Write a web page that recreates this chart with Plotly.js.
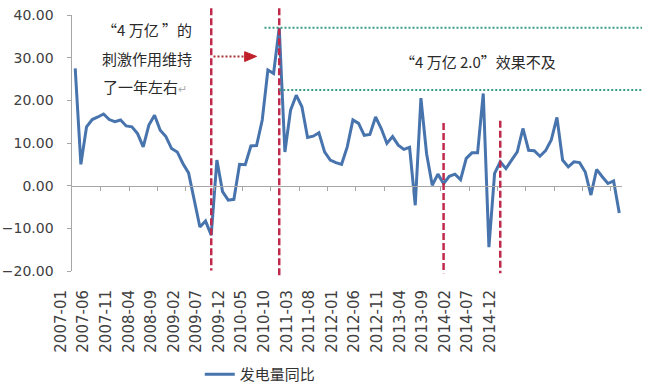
<!DOCTYPE html>
<html>
<head>
<meta charset="utf-8">
<script src="https://cdn.plot.ly/plotly-3.0.1.min.js"></script>
<style>html,body{margin:0;padding:0;background:#fff;}#chart{width:656px;height:386px;}</style>
</head>
<body>
<div id="chart"></div>
<script>
// ---- data ----
const seriesName = '发电量同比';
// monthly YoY values, 2007-01 .. 2015-01 (index 0 = 2007-01)
const genYoY = [
  27.5, 5.0, 13.8, 15.5, 16.1, 16.8, 15.5, 15.0, 15.4, 14.0, 13.8, 12.2,
  9.1, 14.2, 16.5, 13.0, 11.5, 8.7, 7.9, 5.2, 3.0, -3.5, -9.7, -8.3,
  -11.6, 6.0, -1.4, -3.4, -3.2, 5.0, 4.9, 9.3, 9.4, 15.4, 27.1, 26.3,
  37.0, 7.9, 17.7, 21.2, 18.5, 11.3, 11.6, 12.4, 7.9, 6.0, 5.4, 5.0,
  9.1, 15.4, 14.6, 11.8, 12.0, 16.1, 13.4, 9.9, 11.5, 9.5, 8.5, 9.0,
  -4.6, 20.5, 7.5, 0.1, 2.7, 0.5, 2.2, 2.7, 1.4, 6.4, 7.7, 7.7,
  21.6, -14.4, 2.9, 5.6, 4.0, 6.0, 7.9, 13.4, 8.3, 8.2, 6.9, 8.2,
  10.7, 16.0, 6.0, 4.4, 5.6, 5.4, 3.2, -2.2, 3.8, 2.1, 0.5, 1.1,
  -6.4
];
const monthIndex = genYoY.map((_, i) => i);
const tickLabels = ['2007-01','2007-06','2007-11','2008-04','2008-09','2009-02','2009-07','2009-12',
  '2010-05','2010-10','2011-03','2011-08','2012-01','2012-06','2012-11','2013-04','2013-09',
  '2014-02','2014-07','2014-12'];
const tickLabelIdx = tickLabels.map((_, k) => k * 5);
const yTicks = [-20, -10, 0, 10, 20, 30, 40];

// ---- geometry helpers (layout only) ----
const N = genYoY.length;
const xDom = [0.0378, 0.9664];
const x2Dom = [0.0147, 0.7547];
const xp = i => xDom[0] + (i + 0.5) / N * (xDom[1] - xDom[0]);
const yp = v => (v + 20) / 60;

const redCol = '#bf2a4c';
const greenCol = '#3a9c86';

const vlines = [
  {i: 24, top: 41.6, bot: -19.9},
  {i: 36, top: 41.6, bot: -21.0},
  {i: 65, top: 14.7, bot: -20.5},
  {i: 75, top: 15.2, bot: -20.5}
];
const shapes = vlines.map(l => ({
  type: 'line', xref: 'x', yref: 'paper', x0: l.i, x1: l.i, y0: yp(l.top), y1: yp(l.bot),
  line: {color: redCol, width: 2.5, dash: '7px,3px'}
}));
shapes.push({type: 'line', xref: 'paper', yref: 'y', x0: xp(33.4), x1: 1.0, y0: 37.0, y1: 37.0,
  line: {color: greenCol, width: 2, dash: '2px,2px'}});
shapes.push({type: 'line', xref: 'paper', yref: 'y', x0: xp(36), x1: 1.0, y0: 22.4, y1: 22.4,
  line: {color: greenCol, width: 2, dash: '2px,2px'}});
shapes.push({type: 'line', xref: 'x', yref: 'y', x0: 24.4, x1: 30.0, y0: 30.3, y1: 30.3,
  line: {color: '#a83232', width: 2, dash: '2px,2px'}});
shapes.push({type: 'path', xref: 'x', yref: 'y', path: 'M 29.9,31.4 L 32.0,30.3 L 29.9,29.1 Z',
  fillcolor: '#c0202a', line: {color: '#c0202a', width: 1}});

const cjk = '"Noto Sans CJK SC", "Noto Sans", sans-serif';
const annFont = {family: cjk, size: 15, color: '#2a2a2a'};
const annotations = [
  {text: '“4 万亿 ”的', x: 4.3, y: 36.6, xref: 'x', yref: 'y', xanchor: 'left', yanchor: 'middle', showarrow: false, font: annFont},
  {text: '刺激作用维持', x: 4.3, y: 29.8, xref: 'x', yref: 'y', xanchor: 'left', yanchor: 'middle', showarrow: false, font: annFont},
  {text: '了一年左右<span style="color:#aaa;font-size:11px">↵</span>', x: 4.6, y: 23.3, xref: 'x', yref: 'y', xanchor: 'left', yanchor: 'middle', showarrow: false, font: annFont},
  {text: '“4 万亿 2.0”效果不及', x: 71.1, y: 29.2, xref: 'x', yref: 'y', xanchor: 'center', yanchor: 'middle', showarrow: false, font: annFont}
];

const traces = [
  {x: monthIndex, y: genYoY, type: 'scatter', mode: 'lines', name: seriesName,
   line: {color: '#4874ae', width: 3}, hoverinfo: 'skip'},
  {x: [tickLabelIdx[0]], y: [null], xaxis: 'x2', yaxis: 'y', type: 'scatter', mode: 'lines',
   showlegend: false, hoverinfo: 'skip'}
];

const layout = {
  width: 656, height: 386,
  margin: {l: 50, r: 14, t: 15, b: 115, autoexpand: false},
  paper_bgcolor: '#ffffff', plot_bgcolor: 'rgba(0,0,0,0)',
  showlegend: true,
  legend: {orientation: 'h', x: 0.253, y: -0.34, xanchor: 'left', yanchor: 'top',
    bgcolor: 'rgba(0,0,0,0)', font: {family: cjk, size: 15, color: '#333'}},
  xaxis: {domain: xDom, range: [-0.5, N - 0.5], anchor: 'free', position: yp(0), automargin: false,
    showgrid: false, zeroline: false, showline: true, linecolor: '#a6a6a6', linewidth: 1.5,
    ticks: 'outside', ticklen: 4, tickcolor: '#a6a6a6', tickwidth: 1,
    tickvals: tickLabelIdx.slice(0, -1).map(v => v + 4.5), showticklabels: false},
  xaxis2: {domain: x2Dom, range: [-0.5, N - 0.5], anchor: 'free', position: 0, automargin: false,
    showgrid: false, zeroline: false, showline: false, ticks: '',
    tickmode: 'array', tickvals: tickLabelIdx, ticktext: tickLabels, tickangle: -90,
    ticklabelstandoff: 15,
    tickfont: {family: 'DejaVu Sans, sans-serif', size: 15, color: '#404040'}},
  yaxis: {domain: [0, 1], range: [-20, 40], anchor: 'x', tickvals: yTicks, tickformat: '.2f', automargin: false,
    showgrid: false, zeroline: false, showline: true, linecolor: '#a6a6a6', linewidth: 1,
    ticks: 'outside', ticklen: 4, tickcolor: '#a6a6a6', ticklabelstandoff: 11,
    tickfont: {family: 'DejaVu Sans, sans-serif', size: 14, color: '#404040'}},
  shapes: shapes,
  annotations: annotations
};

Plotly.newPlot('chart', traces, layout, {staticPlot: true, displayModeBar: false});
</script>
</body>
</html>
